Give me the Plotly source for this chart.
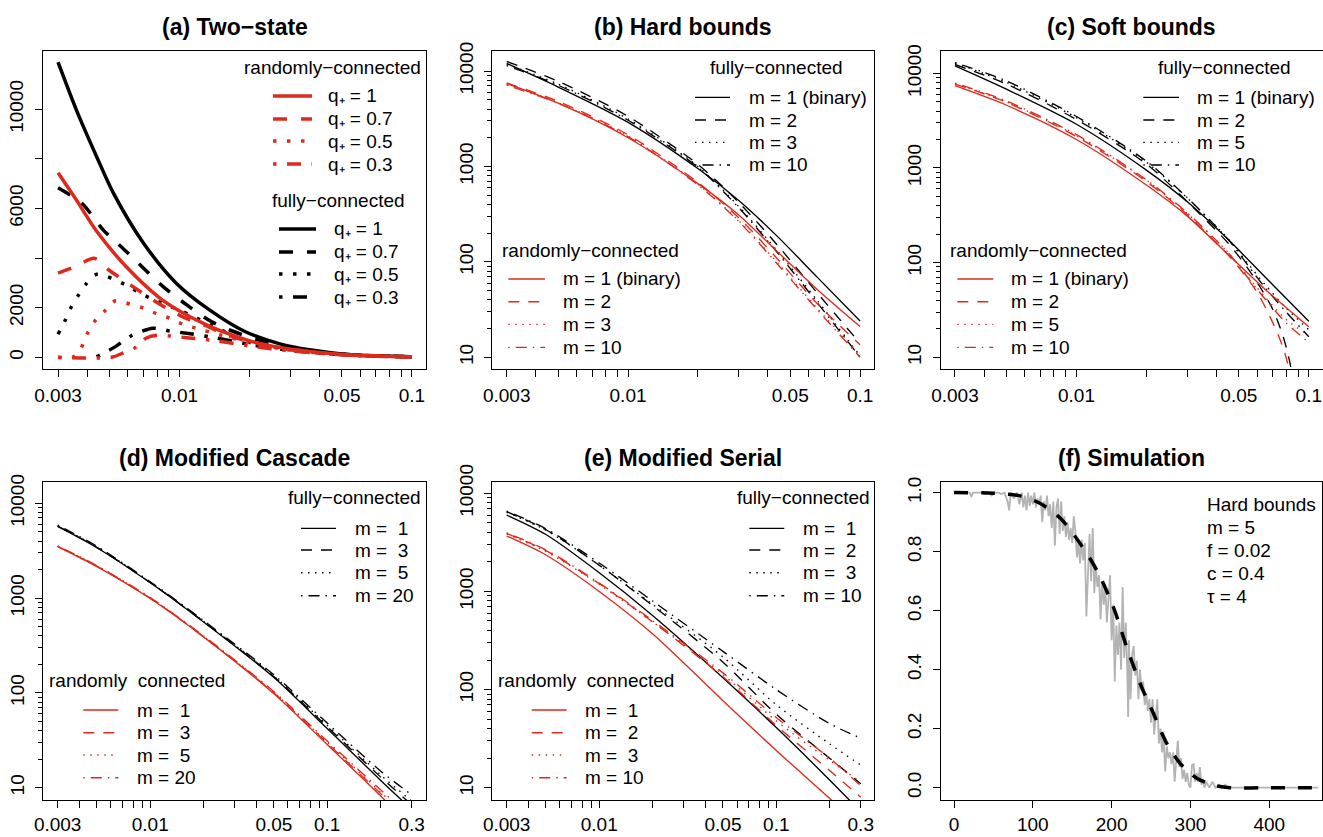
import plotly.graph_objects as go

W, H = 1323, 837
RED = "#DE2A1D"
BLACK = "#000000"
GRAY = "#B3B3B3"
FONT = "Liberation Sans, Arial, Helvetica, sans-serif"

# ---------------- data ----------------
# (a) Two-state : capacity vs coding level (linear y)
A_FULL_Q1_X = [0.003, 0.0036, 0.0044, 0.0052, 0.007, 0.0097, 0.0135, 0.019, 0.027, 0.0375, 0.05, 0.07, 0.1]
A_FULL_Q1_Y = [11900, 9970, 8090, 6610, 4600, 2980, 1900, 1050, 540, 280, 135, 60, 24]
A_FULL_Q07_X = [0.003, 0.0038, 0.0047, 0.0058, 0.007, 0.0085, 0.011, 0.0137, 0.0172, 0.023, 0.03, 0.05, 0.07, 0.1]
A_FULL_Q07_Y = [6840, 6210, 5130, 4330, 3590, 2850, 2040, 1440, 1030, 630, 380, 125, 57, 23]
A_FULL_Q05_X = [0.003, 0.0032, 0.0034, 0.00366, 0.00395, 0.0044, 0.0051, 0.0058, 0.0066, 0.0075, 0.01, 0.014, 0.02, 0.03, 0.05, 0.07, 0.1]
A_FULL_Q05_Y = [930, 1435, 1976, 2484, 2944, 3347, 3185, 2944, 2645, 2379, 1900, 1250, 600, 320, 118, 54, 22]
A_FULL_Q03_X = [0.0044, 0.0053, 0.0062, 0.0077, 0.0091, 0.0107, 0.014, 0.02, 0.03, 0.05, 0.07, 0.1]
A_FULL_Q03_Y = [20, 430, 870, 1170, 1060, 970, 800, 520, 280, 110, 52, 22]
A_RAND_Q1_X = [0.003, 0.0036, 0.0044, 0.0059, 0.0082, 0.01, 0.013, 0.017, 0.022, 0.033, 0.05, 0.07, 0.1]
A_RAND_Q1_Y = [7440, 6340, 5080, 3650, 2400, 1870, 1320, 880, 560, 280, 113, 52, 21]
A_RAND_Q07_X = [0.003, 0.0036, 0.0043, 0.0049, 0.0063, 0.0082, 0.0105, 0.0126, 0.016, 0.02, 0.03, 0.05, 0.07, 0.1]
A_RAND_Q07_Y = [3390, 3680, 3990, 3560, 2850, 2150, 1600, 1330, 900, 640, 300, 108, 50, 20]
A_RAND_Q05_X = [0.003, 0.0035, 0.00378, 0.004, 0.0043, 0.0048, 0.0053, 0.0061, 0.007, 0.008, 0.0091, 0.0103, 0.0118, 0.015, 0.02, 0.03, 0.05, 0.07, 0.1]
A_RAND_Q05_Y = [0, 20, 400, 930, 1435, 1900, 2280, 2150, 1980, 1750, 1570, 1340, 1170, 900, 600, 290, 100, 48, 19]
A_RAND_Q03_X = [0.003, 0.0051, 0.0057, 0.0064, 0.0072, 0.008, 0.0091, 0.011, 0.014, 0.02, 0.03, 0.05, 0.07, 0.1]
A_RAND_Q03_Y = [0, 0, 170, 370, 780, 890, 860, 780, 680, 460, 260, 100, 46, 19]

# (b) Hard bounds
B_X = [0.003, 0.005, 0.01, 0.02, 0.03, 0.044, 0.065, 0.1]
B_FULL_M1 = [12000, 6800, 2900, 950, 440, 185, 70, 24]
B_FULL_M2 = [12600, 7800, 3350, 1050, 420, 150, 48, 14]
B_FULL_M3 = [11800, 7300, 3150, 1000, 380, 130, 40, 10.3]
B_FULL_M10 = [11400, 7100, 3050, 980, 370, 125, 38, 10]
B_RAND_M1 = [7400, 4600, 2000, 660, 310, 128, 52, 21]
B_RAND_M2 = [7500, 4800, 2150, 680, 290, 108, 37, 13.5]
B_RAND_M3 = [7200, 4650, 2080, 650, 270, 98, 33, 10.5]
B_RAND_M10 = [7100, 4600, 2050, 640, 265, 95, 32, 10]

# (c) Soft bounds (m = 1 identical to binary model in (b))
C_X = [0.003, 0.005, 0.01, 0.02, 0.03, 0.045, 0.055, 0.065, 0.08, 0.1]
C_FULL_M5 = [12800, 8000, 3400, 1150, 480, 178, 96, 58, 33, 19.5]
C_FULL_M10 = [13000, 8300, 3500, 1180, 485, 175, 92, 54, 30, 16.5]
C_FULL_M2_X = [0.003, 0.005, 0.01, 0.02, 0.03, 0.045, 0.055, 0.0615, 0.0702, 0.0776, 0.083, 0.085]
C_FULL_M2_Y = [12400, 7700, 3250, 1100, 440, 160, 85, 56, 31.6, 16.5, 8.7, 6]
C_RAND_M5 = [7800, 5000, 2200, 740, 330, 128, 70, 43, 25, 17]
C_RAND_M10 = [7900, 5100, 2250, 750, 335, 127, 68, 41, 23, 14.4]
C_RAND_M2_X = [0.003, 0.005, 0.01, 0.02, 0.03, 0.045, 0.055, 0.0615, 0.0702, 0.0763, 0.081, 0.083]
C_RAND_M2_Y = [7700, 4950, 2150, 720, 320, 120, 66, 43.6, 22.8, 14, 8.7, 6]

# (d) Modified Cascade
D_X = [0.003, 0.005, 0.01, 0.02, 0.05, 0.1, 0.2, 0.3]
D_FULL_M1 = [5700, 3400, 1450, 560, 145, 42, 12, 5.9]
D_FULL_M3 = [5750, 3430, 1460, 565, 148, 44, 13, 6.6]
D_FULL_M5 = [5800, 3460, 1470, 570, 150, 45.5, 13.7, 7.2]
D_FULL_M20 = [5900, 3520, 1490, 580, 155, 48, 15, 8.4]
D_RAND_M1 = [3500, 2150, 990, 390, 98, 28.5, 8.2, 3.9]
D_RAND_M3 = [3520, 2170, 1000, 393, 100, 29.5, 8.7, 4.2]
D_RAND_M5 = [3530, 2180, 1005, 395, 101, 30, 9, 4.4]
D_RAND_M20 = [3560, 2200, 1015, 400, 103, 31, 9.5, 4.8]

# (e) Modified Serial
E_X = [0.003, 0.005, 0.01, 0.02, 0.05, 0.1, 0.2, 0.3]
E_FULL_M1 = [6000, 3800, 1550, 570, 132, 41, 12, 5.7]
E_FULL_M2 = [6500, 4250, 1850, 720, 190, 56, 20, 11]
E_FULL_M3 = [6400, 4200, 1850, 740, 215, 70, 28, 17]
E_FULL_M10 = [6600, 4350, 1950, 800, 245, 100, 45, 32]
E_RAND_M1 = [3670, 2350, 1000, 370, 77, 24, 7.8, 4.0]
E_RAND_M2 = [3900, 2600, 1200, 490, 135, 43, 15, 8]
E_RAND_M3 = [3850, 2550, 1180, 490, 142, 48, 19, 11.5]
E_RAND_M10 = [3950, 2650, 1220, 505, 148, 52, 20, 10.5]

# (f) Simulation: retrieval probability vs pattern age
F_THEORY_X = [0, 50, 84, 109, 135, 160, 181, 202, 219, 236, 253, 270, 287, 308, 329, 350, 400, 462]
F_THEORY_Y = [1.0, 0.998, 0.989, 0.964, 0.913, 0.828, 0.738, 0.614, 0.478, 0.354, 0.252, 0.150, 0.082, 0.032, 0.009, 0.0, 0.0, 0.0]
F_SIM_X = [0, 4, 8, 12, 16, 20, 22, 24, 28, 32, 36, 40, 44, 48, 52, 56, 60, 64, 68, 70, 72, 76, 80, 83, 86, 88,
           90, 92, 94, 96, 98, 100, 102, 104, 106, 108, 110, 112, 114, 116, 118, 120, 122, 124, 126, 128, 130,
           132, 134, 136, 138, 140, 142, 144, 146, 148, 150, 152, 154, 156, 158, 160, 162, 164, 166, 168, 170,
           172, 174, 176, 178, 180, 182, 184, 186, 188, 190, 192, 194, 196, 198, 200, 202, 204, 206, 208, 210,
           212, 214, 216, 218, 220, 221, 222, 224, 226, 228, 230, 232, 234, 236, 238, 240, 242, 244, 246, 248,
           250, 252, 254, 256, 258, 260, 262, 264, 266, 268, 270, 272, 274, 276, 278, 280, 282, 284, 286, 288,
           290, 292, 294, 296, 298, 300, 302, 304, 306, 308, 310, 312, 314, 316, 318, 320, 324, 328, 332, 336,
           340, 344, 348, 462]
F_SIM_Y = [1.0, 1.0, 1.0, 1.0, 1.0, 1.0, 0.985, 1.0, 1.0, 1.0, 1.0, 0.995, 1.0, 0.99, 1.0, 1.0, 0.995, 1.0, 0.97,
           0.94, 1.0, 0.98, 1.0, 0.96, 1.0, 0.95, 0.99, 0.94, 1.0, 0.955, 0.99, 0.96, 1.0, 0.95, 0.98, 0.96, 0.99,
           0.9, 0.97, 0.94, 0.99, 0.92, 0.96, 0.88, 0.97, 0.82, 0.95, 0.98, 0.86, 0.97, 0.87, 0.92, 0.85, 0.9,
           0.84, 0.88, 0.83, 0.92, 0.87, 0.78, 0.83, 0.76, 0.84, 0.77, 0.83, 0.58, 0.72, 0.86, 0.7, 0.88, 0.66,
           0.75, 0.68, 0.72, 0.57, 0.7, 0.62, 0.68, 0.56, 0.66, 0.72, 0.5, 0.62, 0.36, 0.55, 0.45, 0.56, 0.4,
           0.68, 0.44, 0.56, 0.38, 0.24, 0.5, 0.3, 0.45, 0.48, 0.38, 0.43, 0.3, 0.4, 0.33, 0.36, 0.28, 0.32, 0.26,
           0.3, 0.22, 0.3, 0.18, 0.24, 0.3, 0.15, 0.2, 0.12, 0.17, 0.055, 0.14, 0.1, 0.12, 0.08, 0.12, 0.02,
           0.09, 0.16, 0.07, 0.1, 0.03, 0.06, 0.02, 0.05, 0.01, 0.0, 0.077, 0.08, 0.02, 0.05, 0.02, 0.07, 0.01,
           0.03, 0.0, 0.02, 0.0, 0.02, 0.0, 0.01, 0.0, 0.01, 0.0, 0.0]
F_TEXT = ["Hard bounds", "m = 5", "f = 0.02", "c = 0.4", "\u03c4 = 4"]

TITLES = ["(a) Two\u2212state", "(b) Hard bounds", "(c) Soft bounds",
          "(d) Modified Cascade", "(e) Modified Serial", "(f) Simulation"]

# ---------------- layout geometry (pixels) ----------------
BOXES = [(43, 50.5, 426, 369), (492.3, 51, 874, 369), (941, 51, 1322.5, 369),
         (43.3, 481.7, 426, 800), (492.3, 482, 874, 800), (941, 482, 1321.7, 800)]
XR = [[-2.5875, -0.9395], [-2.585, -0.940], [-2.583, -0.941],
      [-2.604, -0.442], [-2.604, -0.448], [-16.5, 466.6]]
YR = [[-472, 12371], [0.877, 4.21], [0.876, 4.236],
      [0.870, 4.228], [0.875, 4.115], [-0.0417, 1.036]]

THICK = {"solid": "solid", "dash": "14px,14px", "dot": "3.5px,10.5px", "dashdot": "3.5px,10.5px,14px,10.5px"}
THIN = {"solid": "solid", "dash": "11px,9px", "dot": "1.5px,5.5px", "dashdot": "1.5px,6px,11px,6px"}

fig = go.Figure()


def ax(i):
    return ("x" if i == 0 else f"x{i+1}"), ("y" if i == 0 else f"y{i+1}")


def line(i, x, y, color, width, dash, shape="spline"):
    xa, ya = ax(i)
    fig.add_trace(go.Scatter(x=x, y=y, mode="lines", xaxis=xa, yaxis=ya, showlegend=False,
                             line=dict(color=color, width=width, dash=dash, shape=shape,
                                       smoothing=0.8 if shape == "spline" else None),
                             hoverinfo="skip"))


TW = 3.5   # thick width
NW = 1.35  # thin width

# (a)
line(0, A_FULL_Q1_X, A_FULL_Q1_Y, BLACK, TW, THICK["solid"])
line(0, A_FULL_Q07_X, A_FULL_Q07_Y, BLACK, TW, THICK["dash"])
line(0, A_FULL_Q05_X, A_FULL_Q05_Y, BLACK, TW, THICK["dot"])
line(0, A_FULL_Q03_X, A_FULL_Q03_Y, BLACK, TW, THICK["dashdot"])
line(0, A_RAND_Q1_X, A_RAND_Q1_Y, RED, TW, THICK["solid"])
line(0, A_RAND_Q07_X, A_RAND_Q07_Y, RED, TW, THICK["dash"])
line(0, A_RAND_Q05_X, A_RAND_Q05_Y, RED, TW, THICK["dot"])
line(0, A_RAND_Q03_X, A_RAND_Q03_Y, RED, TW, THICK["dashdot"])

# (b)
for ys, c, d in [(B_FULL_M1, BLACK, "solid"), (B_FULL_M2, BLACK, "dash"), (B_FULL_M3, BLACK, "dot"),
                 (B_FULL_M10, BLACK, "dashdot"), (B_RAND_M1, RED, "solid"), (B_RAND_M2, RED, "dash"),
                 (B_RAND_M3, RED, "dot"), (B_RAND_M10, RED, "dashdot")]:
    line(1, B_X, ys, c, NW, THIN[d])

# (c)
line(2, B_X, B_FULL_M1, BLACK, NW, THIN["solid"])
line(2, C_FULL_M2_X, C_FULL_M2_Y, BLACK, NW, THIN["dash"])
line(2, C_X, C_FULL_M5, BLACK, NW, THIN["dot"])
line(2, C_X, C_FULL_M10, BLACK, NW, THIN["dashdot"])
line(2, B_X, B_RAND_M1, RED, NW, THIN["solid"])
line(2, C_RAND_M2_X, C_RAND_M2_Y, RED, NW, THIN["dash"])
line(2, C_X, C_RAND_M5, RED, NW, THIN["dot"])
line(2, C_X, C_RAND_M10, RED, NW, THIN["dashdot"])

# (d)
for ys, c, d in [(D_FULL_M1, BLACK, "solid"), (D_FULL_M3, BLACK, "dash"), (D_FULL_M5, BLACK, "dot"),
                 (D_FULL_M20, BLACK, "dashdot"), (D_RAND_M1, RED, "solid"), (D_RAND_M3, RED, "dash"),
                 (D_RAND_M5, RED, "dot"), (D_RAND_M20, RED, "dashdot")]:
    line(3, D_X, ys, c, NW, THIN[d])

# (e)
for ys, c, d in [(E_FULL_M1, BLACK, "solid"), (E_FULL_M2, BLACK, "dash"), (E_FULL_M3, BLACK, "dot"),
                 (E_FULL_M10, BLACK, "dashdot"), (E_RAND_M1, RED, "solid"), (E_RAND_M2, RED, "dash"),
                 (E_RAND_M3, RED, "dot"), (E_RAND_M10, RED, "dashdot")]:
    line(4, E_X, ys, c, NW, THIN[d])

# (f)
line(5, F_SIM_X, F_SIM_Y, GRAY, 1.8, "solid", shape="linear")
line(5, F_THEORY_X, F_THEORY_Y, BLACK, TW, "14px,13px")

# ---------------- axes ----------------
TOP_MAJ = [0.003, 0.01, 0.05, 0.1]
TOP_MIN = [0.004, 0.005, 0.006, 0.007, 0.008, 0.009, 0.02, 0.03, 0.04, 0.06, 0.07, 0.08, 0.09]
BOT_MAJ = [0.003, 0.01, 0.05, 0.1, 0.3]
BOT_MIN = TOP_MIN + [0.2]
LOG_Y_MAJ = [10, 100, 1000, 10000]
LOG_Y_MIN = [v * k for v in (10, 100, 1000) for k in range(2, 10)]

common = dict(showline=True, linecolor="black", linewidth=1.3, mirror=True, ticks="outside",
              ticklen=7, tickwidth=1.2, tickcolor="black", showgrid=False, zeroline=False,
              automargin=False, tickfont=dict(family=FONT, size=19, color="black"), fixedrange=True)

layout = {}
for i in range(6):
    l, t, r, b = BOXES[i]
    xa = "xaxis" if i == 0 else f"xaxis{i+1}"
    ya = "yaxis" if i == 0 else f"yaxis{i+1}"
    xname, yname = ax(i)
    xd = dict(common, domain=[l / W, r / W], anchor=yname, range=XR[i],
              ticklabelstandoff=2 if i < 3 else 0)
    yd = dict(common, domain=[1 - b / H, 1 - t / H], anchor=xname, range=YR[i], tickangle=-90,
              ticklabelstandoff=4)
    if i < 5:
        maj = TOP_MAJ if i < 3 else BOT_MAJ
        mnr = TOP_MIN if i < 3 else BOT_MIN
        xd.update(type="log", tickmode="array", tickvals=maj, ticktext=["%g" % v for v in maj],
                  minor=dict(tickmode="array", tickvals=mnr, ticks="outside", ticklen=7,
                             tickwidth=1.2, tickcolor="black", showgrid=False))
    else:
        xd.update(tickmode="array", tickvals=[0, 100, 200, 300, 400],
                  ticktext=["0", "100", "200", "300", "400"])
    if i == 0:
        yd.update(tickmode="array", tickvals=[0, 2000, 6000, 10000],
                  ticktext=["0", "2000", "6000", "10000"],
                  minor=dict(tickmode="array", tickvals=[4000, 8000], ticks="outside", ticklen=7,
                             tickwidth=1.2, tickcolor="black", showgrid=False))
    elif i < 5:
        yd.update(type="log", tickmode="array", tickvals=LOG_Y_MAJ,
                  ticktext=[str(v) for v in LOG_Y_MAJ],
                  minor=dict(tickmode="array", tickvals=LOG_Y_MIN, ticks="outside", ticklen=4,
                             tickwidth=1, tickcolor="black", showgrid=False))
    else:
        yd.update(tickmode="array", tickvals=[0, 0.2, 0.4, 0.6, 0.8, 1.0],
                  ticktext=["0.0", "0.2", "0.4", "0.6", "0.8", "1.0"])
    layout[xa] = xd
    layout[ya] = yd

# ---------------- titles, legends, text ----------------
annotations = []
shapes = []


def px(x):
    return x / W


def py(y):
    return 1 - y / H


def text(x, y, s, anchor="left", size=19, bold=False):
    annotations.append(dict(x=px(x), y=py(y), xref="paper", yref="paper", text=(f"<b>{s}</b>" if bold else s),
                            showarrow=False, xanchor=anchor, yanchor="middle",
                            font=dict(family=FONT, size=size, color="black")))


for i, ttl in enumerate(TITLES):
    l, t, r, b = BOXES[i]
    text((l + r) / 2, 27 if i < 3 else 458, ttl, anchor="center", size=23, bold=True)


def legend(title, tx, ty, lx0, lx1, txt_x, rows, labels, color, width, dashes):
    text(tx, ty, title, anchor="center")
    for yy, lab, d in zip(rows, labels, dashes):
        shapes.append(dict(type="line", xref="paper", yref="paper", x0=px(lx0), x1=px(lx1), y0=py(yy), y1=py(yy),
                           line=dict(color=color, width=width, dash=d)))
        text(txt_x, yy, lab)


DASHES_T = [THICK["solid"], THICK["dash"], THICK["dot"], THICK["dashdot"]]
DASHES_N = [THIN["solid"], THIN["dash"], THIN["dot"], THIN["dashdot"]]
Q_LABELS = ["q\u208a = 1", "q\u208a = 0.7", "q\u208a = 0.5", "q\u208a = 0.3"]

# (a)
legend("randomly\u2212connected", 332, 68, 273, 312, 326, [96, 119, 141, 164], Q_LABELS, RED, TW, DASHES_T)
legend("fully\u2212connected", 338, 201, 279, 316, 332, [229, 252, 274, 297], Q_LABELS, BLACK, TW, DASHES_T)
# (b)
LB = ["m = 1 (binary)", "m = 2", "m = 3", "m = 10"]
legend("fully\u2212connected", 776, 67, 695, 730, 746.7, [97.3, 120, 142.3, 165], LB, BLACK, NW, DASHES_N)
legend("randomly\u2212connected", 590.5, 250, 508.3, 545, 560.7, [279, 301.7, 324.3, 347.3], LB, RED, NW, DASHES_N)
# (c)
LC = ["m = 1 (binary)", "m = 2", "m = 5", "m = 10"]
legend("fully\u2212connected", 1224.7, 67, 1143.3, 1179, 1195, [97.3, 120, 142.3, 165], LC, BLACK, NW, DASHES_N)
legend("randomly\u2212connected", 1038.7, 250, 957.3, 993.3, 1009.3, [279, 301.7, 324.3, 347.3], LC, RED, NW, DASHES_N)
# (d)
LD = ["m =  1", "m =  3", "m =  5", "m = 20"]
legend("fully\u2212connected", 354.5, 497.3, 301, 336, 352.7, [528.3, 550, 572.7, 595.7], LD, BLACK, NW, DASHES_N)
legend("randomly  connected", 137, 680, 83.3, 118.3, 135, [710, 732.7, 755, 777.7], LD, RED, NW, DASHES_N)
# (e)
LE = ["m =  1", "m =  2", "m =  3", "m = 10"]
legend("fully\u2212connected", 803, 497.3, 749.3, 784.3, 801, [528.3, 550, 572.7, 595.7], LE, BLACK, NW, DASHES_N)
legend("randomly  connected", 585.7, 680, 531.7, 566.7, 583.3, [710, 732.7, 755, 777.7], LE, RED, NW, DASHES_N)
# (f)
for yy, s in zip([505, 527.7, 550.7, 573.7, 596], F_TEXT):
    text(1205, yy, s)

fig.update_layout(width=W, height=H, margin=dict(l=0, r=0, t=0, b=0, pad=0, autoexpand=False),
                  paper_bgcolor="white", plot_bgcolor="white", showlegend=False,
                  annotations=annotations, shapes=shapes,
                  font=dict(family=FONT, size=19, color="black"), **layout)

fig.write_html("out.html")
